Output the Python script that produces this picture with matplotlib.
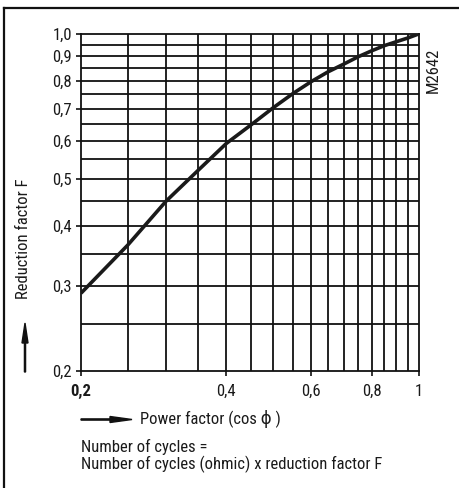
import matplotlib
matplotlib.use("Agg")
import matplotlib.pyplot as plt
from matplotlib.lines import Line2D
from matplotlib.patches import FancyArrow
from matplotlib.ticker import FixedLocator, NullLocator, NullFormatter

plt.rcParams['font.family'] = ['Roboto Condensed', 'DejaVu Sans']

# Data
power_factor = [0.2, 0.25, 0.3, 0.35, 0.4, 0.45, 0.5, 0.55, 0.6, 0.65, 0.7,
                0.75, 0.8, 0.85, 0.9, 0.95, 1.0]
reduction_F = [0.29, 0.365, 0.45, 0.522, 0.593, 0.648, 0.703, 0.753, 0.797,
               0.835, 0.866, 0.897, 0.923, 0.946, 0.964, 0.981, 1.0]
grid_values = [0.25, 0.3, 0.35, 0.4, 0.45, 0.5, 0.55, 0.6, 0.65, 0.7, 0.75,
               0.8, 0.85, 0.9, 0.95]
x_ticks = [0.2, 0.4, 0.6, 0.8, 1.0]
x_tick_labels = ["0,2", "0,4", "0,6", "0,8", "1"]
y_ticks = [0.2, 0.3, 0.4, 0.5, 0.6, 0.7, 0.8, 0.9, 1.0]
y_tick_labels = ["0,2", "0,3", "0,4", "0,5", "0,6", "0,7", "0,8", "0,9", "1,0"]

W, H = 459, 488
FS = 12
TC = "#1a1a1a"
fig = plt.figure(figsize=(W / 100, H / 100), dpi=100)
fig.patch.set_facecolor("white")

L, R, T, B = 81, 418.5, 34, 371
ax = fig.add_axes([L / W, 1 - B / H, (R - L) / W, (B - T) / H])
ax.set_xscale("log")
ax.set_yscale("log")
ax.set_xlim(0.2, 1.0)
ax.set_ylim(0.2, 1.0)

for v in grid_values:
    ax.axvline(v, color="#111111", lw=1.3, zorder=1)
    ax.axhline(v, color="#111111", lw=1.3, zorder=1)

ax.plot(power_factor, reduction_F, color="#1a1a1a", lw=2.6, zorder=3,
        solid_capstyle="butt", solid_joinstyle="round")

for s in ax.spines.values():
    s.set_linewidth(1.3)
    s.set_color("#111111")

ax.xaxis.set_major_locator(FixedLocator(x_ticks))
ax.xaxis.set_minor_locator(NullLocator())
ax.xaxis.set_minor_formatter(NullFormatter())
ax.set_xticklabels(x_tick_labels)
ax.yaxis.set_major_locator(FixedLocator(y_ticks))
ax.yaxis.set_minor_locator(NullLocator())
ax.yaxis.set_minor_formatter(NullFormatter())
ax.set_yticklabels(y_tick_labels)
ax.tick_params(axis="both", direction="out", length=3.5, width=1.2,
               labelsize=FS, colors="#111111", labelcolor=TC, pad=3)
ax.tick_params(axis="x", pad=6)
ax.get_xticklabels()[0].set_fontweight("bold")

# Y label and arrow
fig.text(24 / W, 1 - 239 / H, "Reduction factor F", rotation=90,
         ha="center", va="center", fontsize=FS, color=TC)
fig.add_artist(FancyArrow(
    25 / W, 1 - 372 / H, 0, (372 - 323) / H, width=1.2 / H,
    head_width=6 / W, head_length=20 / H, length_includes_head=True,
    color="#111111", transform=fig.transFigure))

# X label and arrow
fig.add_artist(FancyArrow(
    81 / W, 1 - 419.5 / H, (132 - 81) / W, 0, width=1.2 / H,
    head_width=6 / H, head_length=22 / W, length_includes_head=True,
    color="#111111", transform=fig.transFigure))
fig.text(140 / W, 1 - 419 / H, "Power factor (cos ϕ )", ha="left", va="center",
         fontsize=FS, color=TC)

fig.text(81 / W, 1 - 446.5 / H, "Number of cycles =", ha="left", va="center",
         fontsize=FS, color=TC)
fig.text(81 / W, 1 - 464 / H, "Number of cycles (ohmic) x reduction factor F",
         ha="left", va="center", fontsize=FS, color=TC)

fig.text(433 / W, 1 - 70 / H, "M2642", rotation=90, ha="center", va="center",
         fontsize=FS, color=TC)

# Frame (top and left)
fig.add_artist(Line2D([4 / W, 1.0], [1 - 8 / H, 1 - 8 / H], color="#111111",
                      lw=1.6, transform=fig.transFigure))
fig.add_artist(Line2D([4 / W, 4 / W], [1 - 8 / H, 0.0], color="#111111",
                      lw=1.6, transform=fig.transFigure))

fig.savefig("out.png", dpi=100)
